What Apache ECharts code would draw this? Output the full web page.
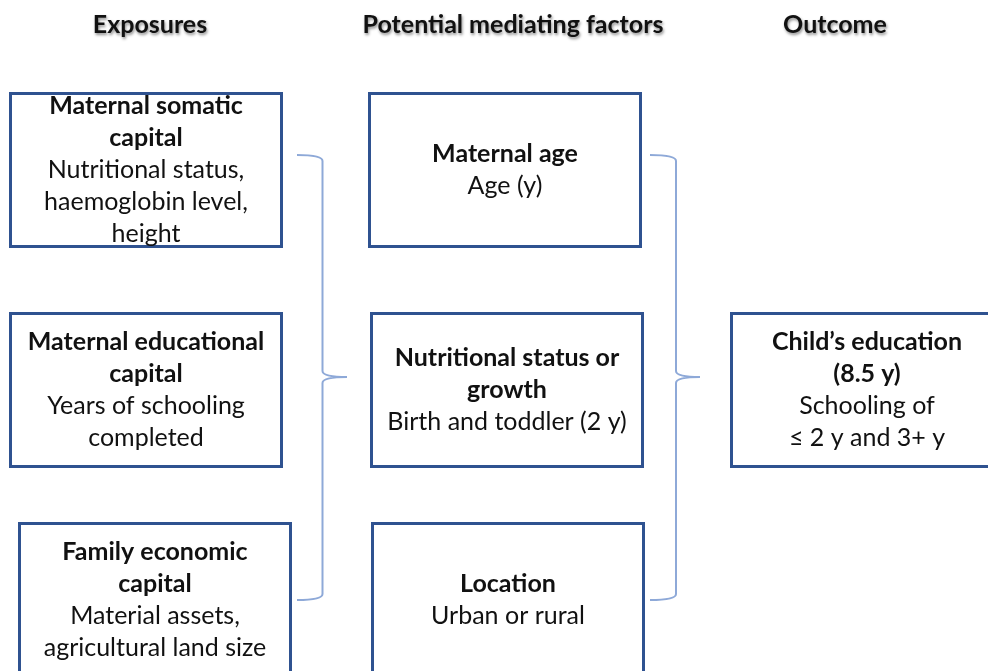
<!DOCTYPE html>
<html>
<head>
<meta charset="utf-8">
<script src="https://cdn.jsdelivr.net/npm/echarts@6/dist/echarts.min.js"></script>
<style>
html,body{margin:0;padding:0;background:#fff;}
#chart{width:988px;height:671px;}
</style>
</head>
<body>
<div id="chart"></div>
<script>
// ---- data (text content) ----
var columnHeaders = ['Exposures', 'Potential mediating factors', 'Outcome'];
var boxTitles = [
  'Maternal somatic\ncapital',
  'Maternal educational\ncapital',
  'Family economic\ncapital',
  'Maternal age',
  'Nutritional status or\ngrowth',
  'Location',
  'Child\u2019s education\n(8.5 y)'
];
var boxDetails = [
  'Nutritional status,\nhaemoglobin level,\nheight',
  'Years of schooling\ncompleted',
  'Material assets,\nagricultural land size',
  'Age (y)',
  'Birth and toddler (2 y)',
  'Urban or rural',
  'Schooling of\n\u2264 2 y and 3+ y'
];
var boxColumn = [0, 0, 0, 1, 1, 1, 2];
var boxRow = [0, 1, 2, 0, 1, 2, 1];
// braces group a column's boxes (from column, to column)
var braceFrom = [0, 1];

// ---- layout (positions / styles, not data) ----
var headerX = [150, 513, 835];
var headerY = 25;
var boxColX = [[146, 146, 155], [505, 507, 508], [867, 867, 867]];
var rowY = [170, 390, 600];
var boxW = 271, boxH = 153;
var braceLayout = [
  {x0: 297, x1: 322.5, tip: 347, top: 155, bottom: 600, mid: 377},
  {x0: 650, x1: 676, tip: 700, top: 155, bottom: 600, mid: 377}
];
var FONT = 'Lato';
var FS = 25;
var BORDER = '#2F5290';
var BRACE = '#8EA9D8';

function richText(i) {
  var lines = [];
  boxTitles[i].split('\n').forEach(function (l) { lines.push('{t|' + l + '}'); });
  boxDetails[i].split('\n').forEach(function (l) { lines.push('{s|' + l + '}'); });
  return lines.join('\n');
}

var boxData = boxTitles.map(function (t, i) { return [boxColumn[i], boxRow[i], i]; });
var headerData = columnHeaders.map(function (h, i) { return [i]; });
var braceData = braceFrom.map(function (c, i) { return [c, i]; });

var chart = echarts.init(document.getElementById('chart'));
chart.setOption({
  animation: false,
  backgroundColor: '#ffffff',
  grid: {left: 0, right: 0, top: 0, bottom: 0},
  xAxis: {type: 'value', min: 0, max: 988, show: false},
  yAxis: {type: 'value', min: 0, max: 671, inverse: true, show: false},
  series: [
    {
      type: 'custom',
      data: braceData,
      renderItem: function (params, api) {
        var b = braceLayout[api.value(1)];
        function P(x, y) { return api.coord([x, y]); }
        var a = P(b.x0, b.top), c1 = P(b.x1, b.top), v1 = P(b.x1, b.top + 6);
        var v2 = P(b.x1, b.mid - 6), t1 = P(b.x1, b.mid), tp = P(b.tip, b.mid);
        var v3 = P(b.x1, b.mid + 6), v4 = P(b.x1, b.bottom - 6), c2 = P(b.x1, b.bottom), e = P(b.x0, b.bottom);
        var d = 'M' + a + ' Q' + c1 + ' ' + v1 + ' L' + v2 + ' Q' + t1 + ' ' + tp +
                ' Q' + t1 + ' ' + v3 + ' L' + v4 + ' Q' + c2 + ' ' + e;
        d = d.replace(/(\d),(\d)/g, '$1 $2').replace(/(\d),(-?\d)/g, '$1 $2');
        return {
          type: 'path',
          shape: {pathData: d},
          style: {fill: 'none', stroke: BRACE, lineWidth: 2}
        };
      },
      z: 1
    },
    {
      type: 'custom',
      data: boxData,
      renderItem: function (params, api) {
        var col = api.value(0), row = api.value(1), idx = api.value(2);
        var c = api.coord([boxColX[col][row], rowY[row]]);
        var s = api.size([boxW, boxH]);
        return {
          type: 'group',
          children: [
            {
              type: 'rect',
              shape: {x: c[0] - s[0] / 2, y: c[1] - s[1] / 2, width: s[0], height: s[1]},
              style: {fill: '#ffffff', stroke: BORDER, lineWidth: 3}
            },
            {
              type: 'text',
              x: c[0], y: c[1],
              style: {
                text: richText(idx),
                align: 'center',
                verticalAlign: 'middle',
                fill: '#111',
                rich: {
                  t: {fontFamily: FONT, fontSize: FS, fontWeight: 'bold', lineHeight: 32, align: 'center', fill: '#111'},
                  s: {fontFamily: FONT, fontSize: FS, fontWeight: 'normal', lineHeight: 32, align: 'center', fill: '#111'}
                }
              },
              z2: 10
            }
          ]
        };
      },
      z: 2
    },
    {
      type: 'custom',
      data: headerData,
      renderItem: function (params, api) {
        var i = api.value(0);
        var c = api.coord([headerX[i], headerY]);
        return {
          type: 'text',
          x: c[0], y: c[1],
          style: {
            text: columnHeaders[i],
            align: 'center',
            verticalAlign: 'middle',
            fontFamily: FONT, fontSize: FS, fontWeight: 'bold',
            fill: '#111',
            textShadowColor: 'rgba(0,0,0,0.45)',
            textShadowBlur: 3,
            textShadowOffsetX: 1,
            textShadowOffsetY: 2
          }
        };
      },
      z: 3
    }
  ]
});
</script>
</body>
</html>
